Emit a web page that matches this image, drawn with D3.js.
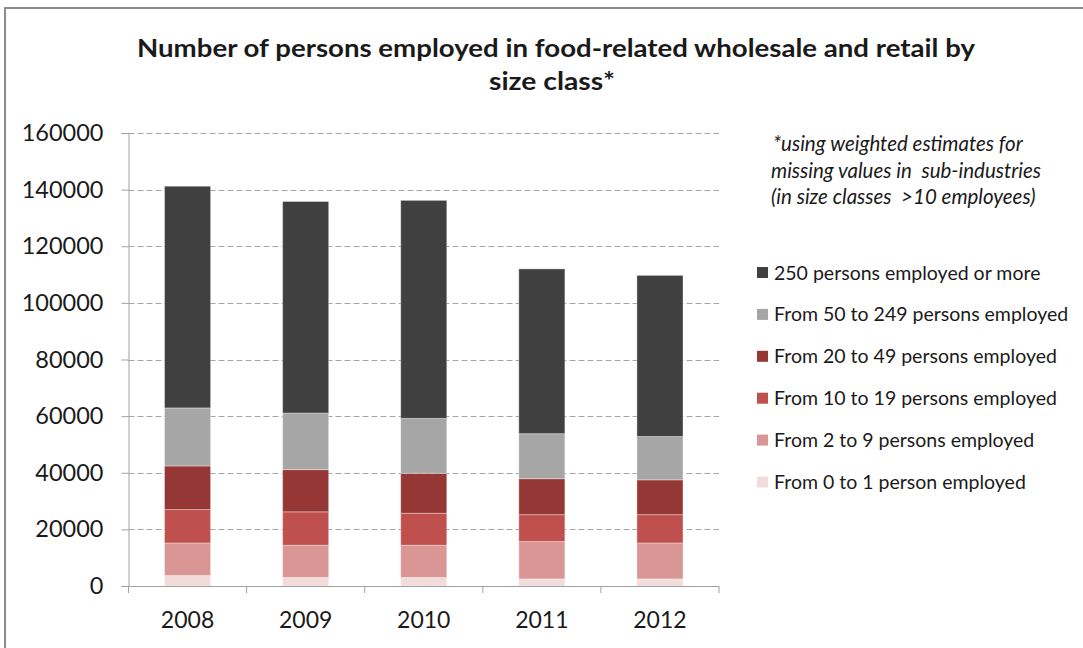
<!DOCTYPE html>
<html>
<head>
<meta charset="utf-8">
<script src="https://cdn.jsdelivr.net/npm/d3@7"></script>
<style>
  html, body { margin: 0; padding: 0; background: #fff; }
  svg { display: block; }
  text { font-family: Lato, "Open Sans", sans-serif; fill: #1a1a1a; }
</style>
</head>
<body>
<svg id="chart" width="1083" height="648"></svg>
<script>
// Years on the x axis
const years = ["2008", "2009", "2010", "2011", "2012"];

// Size classes, stacked from the bottom up
const sizeClasses = [
  "From 0 to 1 person employed",
  "From 2 to 9 persons employed",
  "From 10 to 19 persons employed",
  "From 20 to 49 persons employed",
  "From 50 to 249 persons employed",
  "250 persons employed or more"
];

// Persons employed per size class, one value per year
const class0to1     = [3700, 3000, 3000, 2500, 2500];
const class2to9     = [11500, 11400, 11400, 13200, 12700];
const class10to19   = [11800, 11800, 11300, 9500, 10000];
const class20to49   = [15400, 14900, 14100, 12700, 12300];
const class50to249  = [20500, 20000, 19400, 15900, 15300];
const class250plus  = [78300, 74700, 77000, 58200, 56900];

const yTicks = [0, 20000, 40000, 60000, 80000, 100000, 120000, 140000, 160000];

const colors = ["#f2dcdb", "#d99694", "#c0504d", "#953735", "#a6a6a6", "#404040"];

const seriesValues = [class0to1, class2to9, class10to19, class20to49, class50to249, class250plus];
const rows = years.map((y, i) => {
  const r = { year: y };
  sizeClasses.forEach((k, j) => { r[k] = seriesValues[j][i]; });
  return r;
});

const svg = d3.select("#chart");

// frame around the chart area
svg.append("line").attr("x1", 5).attr("x2", 1083).attr("y1", 8).attr("y2", 8)
  .attr("stroke", "#8c8c8c").attr("stroke-width", 2);
svg.append("line").attr("x1", 5).attr("x2", 5).attr("y1", 7).attr("y2", 648)
  .attr("stroke", "#8c8c8c").attr("stroke-width", 2);

// title
const title = svg.append("text").attr("text-anchor", "middle")
  .style("font-weight", "bold").style("font-size", "25px");
title.append("tspan").attr("x", 556).attr("y", 57)
  .attr("textLength", 838).attr("lengthAdjust", "spacingAndGlyphs")
  .text("Number of persons employed in food-related wholesale and retail by");
title.append("tspan").attr("x", 552).attr("y", 90)
  .attr("textLength", 126).attr("lengthAdjust", "spacingAndGlyphs")
  .text("size class*");

const x0 = 128.5, x1 = 719, yTop = 133, yBottom = 586;

const x = d3.scaleBand().domain(years).range([x0, x1]).paddingInner(0.61).paddingOuter(0.305);
const y = d3.scaleLinear().domain([0, 160000]).range([yBottom, yTop]);

// dashed gridlines
svg.append("g").selectAll("line").data(yTicks.filter(d => d > 0)).join("line")
  .attr("x1", x0).attr("x2", x1)
  .attr("y1", d => Math.round(y(d)) + 0.5).attr("y2", d => Math.round(y(d)) + 0.5)
  .attr("stroke", "#a6a6a6").attr("stroke-dasharray", "6,3");

// y axis
const yAxis = d3.axisLeft(y).tickValues(yTicks).tickSize(7).tickPadding(18).tickFormat(d3.format("d"));
const gy = svg.append("g").attr("transform", `translate(${x0},0)`).call(yAxis);
gy.select(".domain").attr("stroke", "#a0a0a0");
gy.selectAll(".tick line").attr("stroke", "#a0a0a0");
gy.selectAll(".tick text").style("font-size", "23.5px").attr("fill", "#1a1a1a").style("font-family", "Lato, sans-serif");

// stacked bars
const stack = d3.stack().keys(sizeClasses);
const layers = stack(rows);
svg.append("g").selectAll("g").data(layers).join("g")
  .attr("fill", (d, i) => colors[i])
  .selectAll("rect").data(d => d).join("rect")
  .attr("x", d => x(d.data.year))
  .attr("width", x.bandwidth())
  .attr("y", d => y(d[1]))
  .attr("height", d => y(d[0]) - y(d[1]))
  .attr("stroke", "rgba(255,255,255,0.35)")
  .attr("stroke-width", 1);

// x axis with ticks between categories
const xAxisG = svg.append("g");
xAxisG.append("line").attr("x1", x0).attr("x2", x1)
  .attr("y1", yBottom + 0.5).attr("y2", yBottom + 0.5).attr("stroke", "#a0a0a0");
const step = x.step();
const boundaries = d3.range(years.length + 1).map(i => x0 + i * step);
xAxisG.selectAll("line.tk").data(boundaries).join("line").attr("class", "tk")
  .attr("x1", d => d).attr("x2", d => d)
  .attr("y1", yBottom).attr("y2", yBottom + 7).attr("stroke", "#a0a0a0");
xAxisG.selectAll("text").data(years).join("text")
  .attr("x", d => x(d) + x.bandwidth() / 2).attr("y", 628)
  .attr("text-anchor", "middle").style("font-size", "23px").text(d => d);

// footnote
const note = svg.append("text").style("font-style", "italic").style("font-size", "20.5px");
["*using weighted estimates for", "missing values in  sub-industries", "(in size classes  >10 employees)"]
  .forEach((t, i) => note.append("tspan").attr("x", i === 0 ? 773 : 771).attr("y", 151 + i * 26.5)
    .attr("xml:space", "preserve").style("white-space", "pre").text(t));

// legend, largest class first
const legendItems = sizeClasses.map((k, i) => ({ k, c: colors[i] })).reverse();
const lg = svg.append("g").selectAll("g").data(legendItems).join("g")
  .attr("transform", (d, i) => `translate(757,${273 + i * 41.9})`);
lg.append("rect").attr("x", 0).attr("y", -6).attr("width", 11).attr("height", 11).attr("fill", d => d.c);
lg.append("text").attr("x", 17).attr("y", 6.5).style("font-size", "19.5px").text(d => d.k);
</script>
</body>
</html>
